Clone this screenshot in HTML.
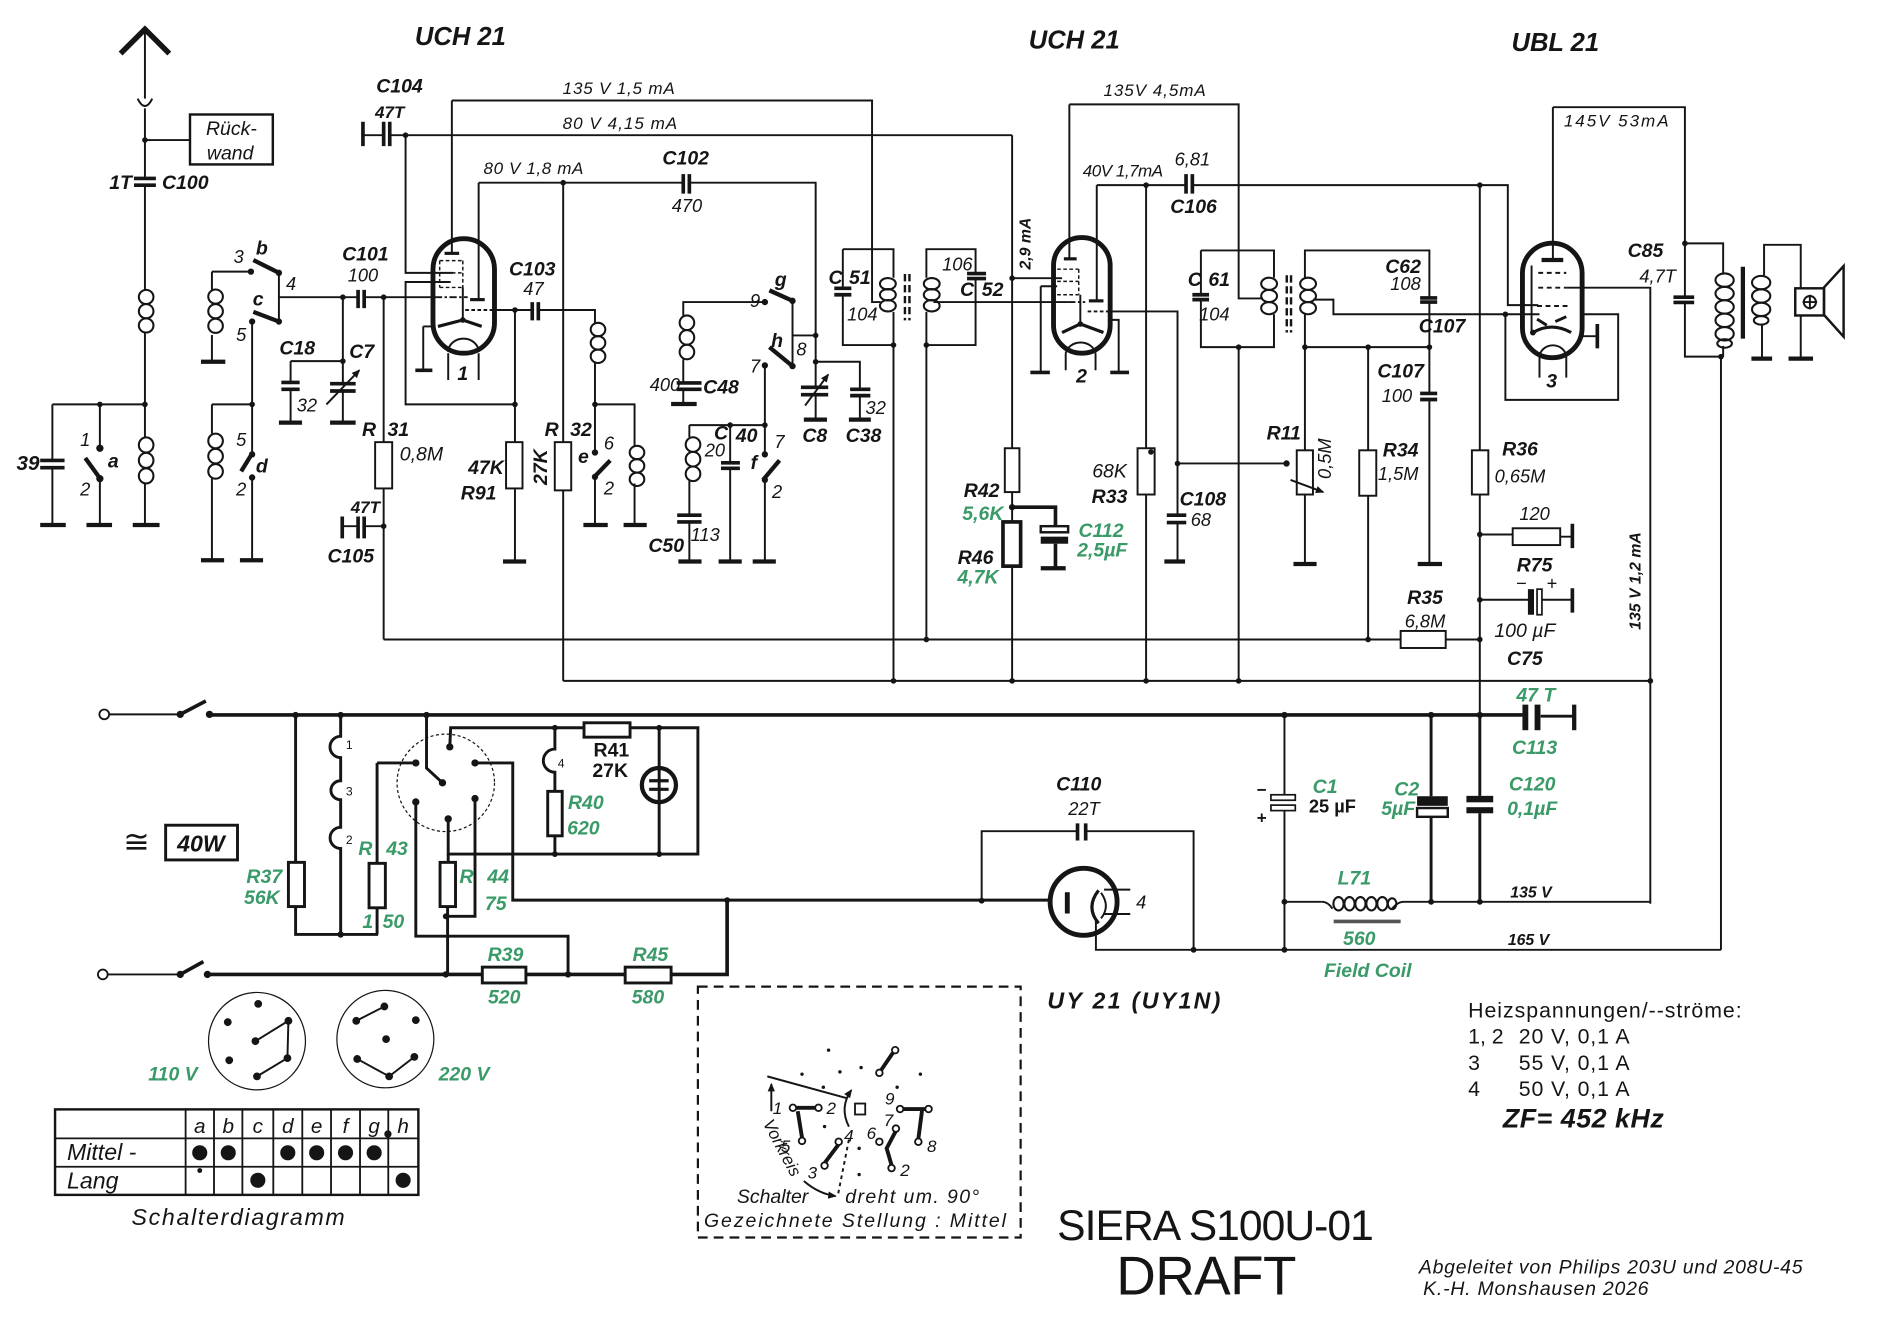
<!DOCTYPE html>
<html><head><meta charset="utf-8"><title>SIERA S100U-01 Draft</title>
<style>
html,body{margin:0;padding:0;background:#fff;width:1900px;height:1324px;overflow:hidden}
svg{display:block}
.w{stroke:#151515;stroke-width:1.6;fill:none}
.k{stroke:#151515;stroke-width:3;fill:none}
.p{stroke:#151515;stroke-width:2.4;fill:none}
.r{stroke:#151515;stroke-width:1.6;fill:#fff}
.rp{stroke:#151515;stroke-width:2.4;fill:#fff}
.c{stroke:#151515;stroke-width:1.7;fill:none}
.n{fill:#151515}
.o{fill:#fff;stroke:#151515;stroke-width:1.5}
text{font-family:"Liberation Sans",Arial,sans-serif;fill:#151515}
.m{text-anchor:middle}
.b{font-weight:bold;font-style:italic;font-size:16px}
.i{font-style:italic;font-size:15px}
.s{font-style:italic;font-size:14px}
.g{fill:#3a9a68;font-weight:bold;font-style:italic;font-size:16px}
</style></head><body>
<svg width="1900" height="1324" viewBox="0 0 1560 1087" preserveAspectRatio="none" xmlns="http://www.w3.org/2000/svg">
<defs>
<marker id="ah" markerWidth="8" markerHeight="8" refX="6" refY="4" orient="auto" markerUnits="userSpaceOnUse"><path d="M0,1L7,4L0,7z" fill="#151515"/></marker>
</defs>
<rect width="1560" height="1087" fill="#fff"/>

<!-- ===== Titles ===== -->
<text x="378" y="37" class="b m" style="font-size:21px">UCH 21</text>
<text x="882" y="40" class="b m" style="font-size:21px">UCH 21</text>
<text x="1277" y="42" class="b m" style="font-size:21px">UBL 21</text>

<!-- ===== Antenna input ===== -->
<polyline points="99,44 119,24 139,44" class="k" style="stroke-width:4.5"/>
<path class="w" d="M119,24V81 M119,89V146 M119,152V238 M119,273V359 M119,397V431"/>
<path class="w" d="M113,81 Q119,93 125,81"/>
<g class="c"><ellipse cx="120" cy="243.8" rx="6" ry="5.8"/><ellipse cx="120" cy="255.5" rx="6" ry="5.8"/><ellipse cx="120" cy="267.2" rx="6" ry="5.8"/>
<ellipse cx="120" cy="365.3" rx="6" ry="6.2"/><ellipse cx="120" cy="378" rx="6" ry="6.2"/><ellipse cx="120" cy="390.7" rx="6" ry="6.2"/></g>
<path class="w" d="M119,115H156"/>
<rect x="156" y="94" width="68" height="41" class="r" style="stroke-width:2"/>
<text x="190" y="111" class="i m" style="font-size:16px">Rück-</text>
<text x="189" y="131" class="i m" style="font-size:16px">wand</text>
<path class="k" d="M110,146.5H128M110,152H128"/>
<text x="99" y="155" class="b m">1T</text>
<text x="133" y="155" class="b">C100</text>
<path class="w" d="M43,332H119"/>
<path class="w" d="M43,332V378M43,384V431"/><path class="k" d="M33,378H53M33,384H53"/>
<text x="23" y="386" class="b m" style="font-size:17px">39</text>
<path class="w" d="M82,332V368M82,393V431"/>
<circle cx="82" cy="368" r="3" class="n"/><circle cx="82" cy="393" r="3" class="n"/>
<path class="k" d="M70,376L83,394" style="stroke-width:3.5"/>
<text x="70" y="366" class="i m">1</text><text x="70" y="407" class="i m">2</text><text x="93" y="384" class="b m">a</text>
<path class="k" style="stroke-width:3.5" d="M33,431H54M71,431H92M109,431H131"/>
<circle cx="119" cy="115" r="2.3" class="n"/><circle cx="82" cy="332" r="2.3" class="n"/><circle cx="119" cy="332" r="2.3" class="n"/>

<!-- ===== Band switch b c d ===== -->
<path class="w" d="M174,223H206 M174,223V238 M174,275V297"/>
<g class="c"><ellipse cx="177" cy="243.5" rx="6" ry="5.8"/><ellipse cx="177" cy="255.5" rx="6" ry="5.8"/><ellipse cx="177" cy="267.5" rx="6" ry="5.8"/>
<ellipse cx="177" cy="362" rx="6" ry="6"/><ellipse cx="177" cy="374.5" rx="6" ry="6"/><ellipse cx="177" cy="387" rx="6" ry="6"/></g>
<path class="k" style="stroke-width:3.5" d="M165,297H185 M165,460H184 M197,460H216"/>
<circle cx="206" cy="223" r="2.6" class="n"/>
<path class="k" d="M208,213.5L229,224" style="stroke-width:3.5"/>
<circle cx="229" cy="224" r="2.6" class="n"/>
<path class="w" d="M229,224V264 M229,244H294"/>
<path class="k" d="M208,256L229,264" style="stroke-width:3.5"/>
<circle cx="229" cy="264" r="2.6" class="n"/><circle cx="207" cy="264" r="2.6" class="n"/>
<text x="196" y="216" class="i m">3</text><text x="215" y="209" class="b m">b</text><text x="239" y="238" class="i m">4</text>
<text x="212" y="251" class="b m">c</text><text x="198" y="280" class="i m">5</text>
<path class="w" d="M207,264V373 M174,332H207 M174,332V356 M174,393V460"/>
<circle cx="207" cy="332" r="2.3" class="n"/><circle cx="207" cy="373" r="2.6" class="n"/><circle cx="207" cy="392" r="2.6" class="n"/>
<path class="k" d="M198,387L206,374" style="stroke-width:3.5"/>
<path class="w" d="M207,392V460"/>
<text x="198" y="366" class="i m">5</text><text x="215" y="388" class="b m">d</text><text x="198" y="407" class="i m">2</text>

<!-- C18 / C7 -->
<path class="w" d="M238.6,296.5H281.5 M238.6,296.5V314 M238.6,319.6V347 M281.5,244V315 M281.5,321V347"/>
<path class="k" d="M231,314H246M231,319.6H246 M271,315H292M271,321H292"/>
<path class="w" d="M268,332L295,304" marker-end="url(#ah)"/>
<path class="k" style="stroke-width:3.5" d="M229,347H248 M271,347H292"/>
<circle cx="281.5" cy="296.5" r="2.3" class="n"/><circle cx="281.5" cy="244" r="2.3" class="n"/>
<text x="244" y="291" class="b m">C18</text><text x="252" y="338" class="i m">32</text><text x="297" y="294" class="b m">C7</text>

<!-- C101 / R31 / C105 -->
<path class="k" d="M294,238V253M299,238V253"/>
<path class="w" d="M299,244H357 M315,244V363 M315,401V525"/>
<rect x="308" y="363" width="14" height="38" class="r"/>
<circle cx="315" cy="244" r="2.3" class="n"/>
<text x="300" y="214" class="b m">C101</text><text x="298" y="231" class="i m">100</text>
<text x="303" y="358" class="b m">R</text><text x="327" y="358" class="b m">31</text>
<text x="346" y="378" class="b m" style="font-weight:normal">0,8M</text>
<path class="w" d="M281,432H294 M299,432H315"/>
<path class="k" d="M294,424V442M299,424V442 M281,424V442"/>
<circle cx="315" cy="432" r="2.3" class="n"/>
<text x="300" y="421" class="b m" style="font-size:14px">47T</text><text x="288" y="462" class="b m">C105</text>

<!-- ===== Tube 1 ===== -->
<rect x="355.5" y="196" width="50.5" height="94" rx="25" class="k" style="stroke-width:4"/>
<path class="w" d="M371,82.5V208"/><path class="k" d="M365,208H377" style="stroke-width:2.6"/>
<path class="w" style="stroke-width:1.2;stroke-dasharray:3,2" d="M361,214H380M361,224H380M361,236H380M361,214V236M380,214V236"/>
<path class="w" d="M372,224H333V111 M370,231.5H333V332H422.8"/>
<path class="w" style="stroke-dasharray:6,2,2,2" d="M357,244H384"/>
<path class="w" d="M393,150V246"/><path class="k" d="M386,246H398" style="stroke-width:2.6"/>
<path class="w" style="stroke-dasharray:3,2" d="M382,254.5H406"/>
<path class="w" d="M380,236V262.7"/>
<polyline points="359.6,268 380,262.7 395.5,268" class="k" style="stroke-width:2.6"/>
<circle cx="380" cy="262.7" r="2.3" class="n"/>
<path class="w" d="M368,289 A12.5,11 0 0 1 393,289 M368,290V312 M393,290V312 M347.5,268H356 M347.5,268V304"/>
<path class="k" d="M341,304H355"/>
<text x="380" y="312" class="b m">1</text>

<!-- C104 -->
<path class="w" d="M298,111H315 M320,111H831 M371,82.5H716V248H723"/>
<path class="k" d="M298,100V120 M315,100V120 M320,100V120"/>
<circle cx="333" cy="111" r="2.3" class="n"/>
<text x="328" y="76" class="b m">C104</text><text x="320" y="97" class="b m" style="font-size:14px">47T</text>
<text x="462" y="77" class="s" textLength="92">135 V   1,5 mA</text>
<text x="462" y="106" class="s" textLength="94">80 V   4,15 mA</text>

<!-- 80V 1,8mA / R32 -->
<path class="w" d="M393,150H561 M566,150H669.7V318 M462.4,150V363 M462.4,402.6V559"/>
<rect x="455.5" y="363" width="13.5" height="39.6" class="r"/>
<circle cx="462.4" cy="150" r="2.3" class="n"/>
<text x="397" y="143" class="s" textLength="82">80 V  1,8 mA</text>
<text x="453" y="358" class="b m">R</text><text x="477" y="358" class="b m">32</text>
<text x="0" y="0" class="b m" transform="translate(449,383.5) rotate(-90)">27K</text>

<!-- C103 / R91 / osc coil -->
<path class="w" d="M406,254.5H437 M442,254.5H488.5V265 M488.5,297V371.5 M422.8,254.5V363 M422.8,401V461"/>
<path class="k" d="M437,248V263M442,248V263"/>
<g class="c"><ellipse cx="491" cy="270.5" rx="6" ry="5.5"/><ellipse cx="491" cy="281.5" rx="6" ry="5.5"/><ellipse cx="491" cy="292.5" rx="6" ry="5.5"/></g>
<rect x="415.5" y="363" width="13.5" height="38" class="r"/>
<circle cx="422.8" cy="254.5" r="2.3" class="n"/><circle cx="422.8" cy="332" r="2.3" class="n"/>
<path class="k" style="stroke-width:3.5" d="M413,461H432"/>
<text x="437" y="226" class="b m">C103</text><text x="438" y="242" class="i m">47</text>
<text x="399" y="389" class="b m">47K</text><text x="393" y="410" class="b m">R91</text>

<!-- switch e -->
<circle cx="488.5" cy="332" r="2.3" class="n"/>
<circle cx="488.5" cy="371.5" r="2.6" class="n"/><circle cx="488.5" cy="391.5" r="2.6" class="n"/>
<path class="k" d="M489,390.5L501,378" style="stroke-width:3.5"/>
<path class="w" d="M488.5,391.5V431 M488.5,332H521V366 M521,397V431"/>
<g class="c"><ellipse cx="523" cy="371.5" rx="6" ry="5.5"/><ellipse cx="523" cy="382.5" rx="6" ry="5.5"/><ellipse cx="523" cy="393.5" rx="6" ry="5.5"/></g>
<path class="k" style="stroke-width:3.5" d="M479,431H499 M512,431H531"/>
<text x="500" y="369" class="i m">6</text><text x="479" y="380" class="b m">e</text><text x="500" y="406" class="i m">2</text>

<!-- C102 -->
<path class="k" d="M561,143V159M566,143V159"/>
<text x="563" y="135" class="b m">C102</text><text x="564" y="174" class="i m">470</text>

<!-- C8 / C38 -->
<path class="k" d="M657.6,318H680M657.6,324H680"/>
<path class="w" d="M661,333L680,307.5" marker-end="url(#ah)"/>
<path class="w" d="M669.7,324V344.5 M669.7,297H706V319.6 M706,324.8V344.5"/>
<path class="k" d="M698,319.6H714.6M698,324.8H714.6"/>
<path class="k" style="stroke-width:3.5" d="M660,344.5H679 M697,344.5H715"/>
<circle cx="669.7" cy="275.4" r="2.3" class="n"/><circle cx="669.7" cy="297" r="2.3" class="n"/>
<text x="669" y="363" class="b m">C8</text><text x="719" y="340" class="i m">32</text><text x="709" y="363" class="b m">C38</text>

<!-- switch g h -->
<path class="w" d="M650.7,247V300.6 M650.7,275.4H669.7"/>
<path class="k" style="stroke-width:3.5" d="M631.7,238.4L650.7,247 M631.7,285L650.7,300.6"/>
<circle cx="650.7" cy="247" r="2.6" class="n"/><circle cx="628" cy="248" r="2.6" class="n"/>
<circle cx="650.7" cy="300.6" r="2.6" class="n"/><circle cx="628" cy="300" r="2.6" class="n"/>
<text x="620" y="252" class="i m">9</text><text x="641" y="235" class="b m">g</text>
<text x="638" y="285" class="b m">h</text><text x="620" y="306" class="i m">7</text><text x="658" y="292" class="i m">8</text>

<!-- C48 coil / lower coil / C40 / switch f -->
<path class="w" d="M628,248H561V259 M561,295V314.4 M561,319.6V331.7"/>
<g class="c"><ellipse cx="564" cy="265" rx="6" ry="6"/><ellipse cx="564" cy="277" rx="6" ry="6"/><ellipse cx="564" cy="289" rx="6" ry="6"/>
<ellipse cx="569" cy="365" rx="6" ry="6"/><ellipse cx="569" cy="377" rx="6" ry="6"/><ellipse cx="569" cy="389" rx="6" ry="6"/></g>
<path class="k" d="M555.6,314.4H576M555.6,319.6H576"/>
<path class="k" style="stroke-width:3.5" d="M551,331.7H572"/>
<text x="546" y="321" class="i m">400</text><text x="592" y="323" class="b m">C48</text>
<path class="w" d="M566,349H628 M566,349V359 M566,395V423 M566,428.5V461 M599.5,349V380 M599.5,384.5V461 M628,300V373 M628,394V461"/>
<path class="k" d="M556,423H576M556,428.5H576 M592,380H607.5M592,384.5H607.5"/>
<path class="k" style="stroke-width:3.5" d="M557,461H576 M590,461H609 M618,461H637"/>
<circle cx="599.5" cy="349" r="2.3" class="n"/><circle cx="628" cy="349" r="2.3" class="n"/>
<circle cx="628" cy="373" r="2.6" class="n"/><circle cx="628" cy="394" r="2.6" class="n"/>
<path class="k" d="M626.5,394L640,378" style="stroke-width:3.5"/>
<text x="547" y="453" class="b m">C50</text><text x="579" y="444" class="i m">113</text>
<text x="592" y="361" class="b m">C</text><text x="613" y="363" class="b m">40</text><text x="587" y="375" class="i m">20</text>
<text x="640" y="368" class="i m">7</text><text x="619" y="385" class="b m">f</text><text x="638" y="409" class="i m">2</text>

<!-- ===== IF transformer 1 ===== -->
<path class="w" d="M692,204.6H733.6V228 M733.6,256V283.3H692V242 M692,236.7V204.6"/>
<path class="k" d="M685,236.7H699M685,242H699"/>
<g class="c"><ellipse cx="729" cy="233" rx="6.5" ry="4.7"/><ellipse cx="729" cy="242" rx="6.5" ry="4.7"/><ellipse cx="729" cy="251" rx="6.5" ry="4.7"/>
<ellipse cx="765" cy="233" rx="6.5" ry="4.7"/><ellipse cx="765" cy="242" rx="6.5" ry="4.7"/><ellipse cx="765" cy="251" rx="6.5" ry="4.7"/></g>
<path class="w" style="stroke-width:2;stroke-dasharray:6,3" d="M743,225V263M746.7,225V263"/>
<path class="w" d="M760.6,228V204.6H801V224.6 M801,228.7V283.3H760.6V256"/>
<path class="k" d="M794,224.6H809.6M794,228.7H809.6"/>
<path class="w" d="M766.4,248H877"/>
<path class="w" d="M733.6,283.3V559 M760.6,283.3V525"/>
<circle cx="733.6" cy="283.3" r="2.3" class="n"/><circle cx="760.6" cy="283.3" r="2.3" class="n"/>
<text x="686" y="233" class="b m">C</text><text x="706" y="233" class="b m">51</text><text x="708" y="263" class="i m">104</text>
<text x="786" y="222" class="i m">106</text><text x="794" y="243" class="b m">C</text><text x="815" y="243" class="b m">52</text>

<!-- buses -->
<path class="w" d="M315,525H1150 M1187,525H1215 M462.4,559H1355"/>
<circle cx="733.6" cy="559" r="2.3" class="n"/><circle cx="831" cy="559" r="2.3" class="n"/><circle cx="941" cy="559" r="2.3" class="n"/><circle cx="1017" cy="559" r="2.3" class="n"/><circle cx="1355" cy="559" r="2.3" class="n"/>
<circle cx="760.6" cy="525" r="2.3" class="n"/><circle cx="1123.3" cy="525" r="2.3" class="n"/><circle cx="1215" cy="525" r="2.3" class="n"/>
<rect x="1150" y="518" width="37" height="14" class="r"/>
<text x="1170" y="496" class="b m">R35</text><text x="1170" y="515" class="i m">6,8M</text>

<!-- R42 / R46 / C112 -->
<path class="w" d="M831,111V368 M831,404V428.5 M831,464.8V559 M831,228.4H872"/>
<rect x="825" y="368" width="12" height="36" class="r"/>
<rect x="823.5" y="428.5" width="14.5" height="36.3" class="rp" style="stroke-width:3"/>
<circle cx="831" cy="228.4" r="2.3" class="n"/><circle cx="831" cy="416.4" r="2.6" class="n"/>
<path class="k" d="M831,416.4H866.6V432 M866.6,446.4V466.5"/>
<rect x="854.5" y="432" width="22.5" height="5" class="r" style="stroke-width:2"/>
<rect x="854.5" y="440.6" width="22.5" height="5.8" class="n"/>
<path class="k" style="stroke-width:3.5" d="M854.5,466.5H875"/>
<text x="0" y="0" class="s m" style="font-weight:bold;font-size:13px" transform="translate(846,200) rotate(-90)">2,9 mA</text>
<text x="806" y="408" class="b m">R42</text><text x="807" y="427" class="g m">5,6K</text>
<text x="801" y="463" class="b m">R46</text><text x="803" y="479" class="g m">4,7K</text>
<text x="904" y="441" class="g m">C112</text><text x="905" y="457" class="g m">2,5µF</text>

<!-- ===== Tube 2 ===== -->
<rect x="865" y="195" width="46.5" height="95" rx="23" class="k" style="stroke-width:4"/>
<path class="w" d="M878,85.7V212.5 M878,85.7H1017V245H1037"/>
<path class="k" d="M873.5,212.5H884" style="stroke-width:2.6"/>
<text x="906" y="79" class="s" textLength="84">135V  4,5mA</text>
<path class="w" style="stroke-width:1.2;stroke-dasharray:3,2" d="M868,221H885.7M868,231H885.7M868,242H885.7M885.7,221V242"/>
<path class="w" d="M854.5,235H868 M854.5,235V305.8"/>
<path class="k" d="M846,305.8H862"/>
<path class="w" style="stroke-dasharray:6,2,2,2" d="M877,248H891"/>
<path class="w" d="M900.5,152V247"/><path class="k" d="M894,247H906" style="stroke-width:2.6"/>
<path class="w" style="stroke-dasharray:3,2" d="M893,255.7H911"/>
<path class="w" d="M911,255.7H966.8V423 M966.8,429V461 M966.8,380.5H1056.3"/>
<path class="k" d="M958,423H974M958,429H974"/>
<path class="k" style="stroke-width:3.5" d="M956,461H973"/>
<circle cx="966.8" cy="380.5" r="2.3" class="n"/><circle cx="1056.3" cy="380.5" r="2.6" class="n"/>
<path class="w" d="M887,242V266"/>
<polyline points="872,273 887,266 906,273" class="k" style="stroke-width:2.6"/>
<circle cx="887" cy="266" r="2.3" class="n"/>
<path class="w" d="M875,290 A12.5,11 0 0 1 899.5,290 M875,290V304 M899.5,290V304 M911.5,262.6H918.5V305.8"/>
<path class="k" d="M911.6,305.8H927"/>
<text x="888" y="314" class="b m">2</text>
<text x="987.6" y="415" class="b m">C108</text><text x="986" y="432" class="i m">68</text>

<!-- 40V line / C106 / R33 -->
<path class="w" d="M900.5,152H973.8 M979,152H1238V250.5H1263 M941,152V368 M941,406V559"/>
<path class="k" d="M973.8,143V159M979,143V159"/>
<rect x="934" y="368" width="14" height="38" class="r"/>
<circle cx="945" cy="371" r="2.3" class="n"/>
<circle cx="941" cy="152" r="2.3" class="n"/><circle cx="1215" cy="152" r="2.3" class="n"/>
<text x="922" y="145" class="s m" textLength="66">40V 1,7mA</text>
<text x="979" y="136" class="i m">6,81</text><text x="980" y="175" class="b m">C106</text>
<text x="911" y="392" class="b m" style="font-weight:normal">68K</text><text x="911" y="413" class="b m">R33</text>

<!-- ===== IF transformer 2 ===== -->
<path class="w" d="M986,205.6H1046V228 M1046,258V285H986V246 M986,242V205.6"/>
<path class="k" d="M979,242H992.7M979,246H992.7"/>
<g class="c"><ellipse cx="1042" cy="233" rx="6.5" ry="5"/><ellipse cx="1042" cy="243" rx="6.5" ry="5"/><ellipse cx="1042" cy="253" rx="6.5" ry="5"/>
<ellipse cx="1074" cy="233" rx="6.5" ry="5"/><ellipse cx="1074" cy="243" rx="6.5" ry="5"/><ellipse cx="1074" cy="253" rx="6.5" ry="5"/></g>
<path class="w" style="stroke-width:2;stroke-dasharray:6,3" d="M1056.5,226V273M1060,226V273"/>
<path class="w" d="M1017,285V559"/>
<circle cx="1017" cy="285" r="2.3" class="n"/>
<text x="981" y="235" class="b m">C</text><text x="1001" y="235" class="b m">61</text><text x="997" y="263" class="i m">104</text>
<path class="w" d="M1071.4,228V205.6H1173.6V244.6 M1173.6,248V323 M1173.6,328V463 M1071.4,258V285H1173.6"/>
<path class="k" d="M1166,244.6H1180M1166,248H1180 M1166,323H1180M1166,328H1180"/>
<path class="k" style="stroke-width:3.5" d="M1164,463H1184"/>
<circle cx="1071.4" cy="285" r="2.3" class="n"/><circle cx="1123.3" cy="285" r="2.3" class="n"/><circle cx="1173.6" cy="285" r="2.3" class="n"/>
<path class="w" d="M1078,246H1094.8V258H1264"/>
<circle cx="1236" cy="258" r="2.3" class="n"/>
<text x="1152" y="224" class="b m">C62</text><text x="1154" y="238" class="i m">108</text>
<text x="1184" y="273" class="b m">C107</text>
<text x="1150" y="310" class="b m">C107</text><text x="1147" y="330" class="i m">100</text>

<!-- R11 / R34 -->
<path class="w" d="M1071.4,285V369.7 M1071.4,406V463 M1123.3,285V369.7 M1123.3,407V525"/>
<rect x="1064.7" y="369.7" width="13.3" height="36.3" class="r"/>
<rect x="1116" y="369.7" width="14" height="37.3" class="r"/>
<path class="w" d="M1059.6,394L1086.4,404" marker-end="url(#ah)"/>
<path class="k" style="stroke-width:3.5" d="M1062,463H1081"/>
<text x="1054" y="361" class="b m">R11</text>
<text x="0" y="0" class="i m" transform="translate(1093,376.6) rotate(-90)">0,5M</text>
<text x="1150" y="375" class="b m">R34</text><text x="1148" y="394" class="i m">1,5M</text>

<!-- R36 / 120 / C75 -->
<path class="w" d="M1215,152V369.7 M1215,406V587 M1215,438.8H1242 M1281,440.6H1291 M1215,492.4H1256 M1266,492.4H1291"/>
<rect x="1208.5" y="369.7" width="13.5" height="36.3" class="r"/>
<rect x="1242" y="433.7" width="39" height="13.8" class="r"/>
<path class="k" d="M1291,430V450 M1291,483V503"/>
<rect x="1254.5" y="483.7" width="5" height="21" class="n"/>
<rect x="1262" y="483.7" width="4" height="21" class="r" style="stroke-width:1.4"/>
<circle cx="1215" cy="438.8" r="2.3" class="n"/><circle cx="1215" cy="492.4" r="2.3" class="n"/>
<text x="1248" y="374" class="b m">R36</text><text x="1248" y="396" class="i m">0,65M</text>
<text x="1260" y="427" class="i m">120</text><text x="1260" y="469" class="b m">R75</text>
<text x="1249" y="484" class="i m">−</text><text x="1274" y="484" class="i m">+</text>
<text x="1252" y="523" class="b m" style="font-weight:normal">100 µF</text><text x="1252" y="546" class="b m">C75</text>

<!-- ===== Tube 3 ===== -->
<rect x="1250" y="199.7" width="49" height="94" rx="24.5" class="k" style="stroke-width:4"/>
<path class="w" d="M1275,88V213.5"/><path class="k" d="M1265.7,213.5H1283.5" style="stroke-width:3.5"/>
<path class="w" d="M1257.5,218V273"/>
<path class="w" style="stroke-dasharray:4,3" d="M1263,224H1286 M1263,236.2H1286 M1262,251.2H1287"/>
<path class="w" d="M1286,236.2H1355V742"/>
<path class="k" style="stroke-width:2.4" d="M1262,262L1270,267 M1277,264L1286,260"/>
<path class="k" style="stroke-width:2.6" d="M1258.6,273 Q1274,264 1290,273"/>
<circle cx="1258.6" cy="273" r="2.4" class="n"/>
<path class="w" d="M1264,293.5 A11,10 0 0 1 1286,293.5 M1264,293.5V310 M1286,293.5V310 M1299,276H1311.5"/>
<path class="k" d="M1311.5,266V286"/>
<path class="w" d="M1236,258V328.3H1328.6V258H1299"/>
<text x="1274" y="318" class="b m">3</text>
<text x="0" y="0" class="s m" style="font-weight:bold;font-size:13px" transform="translate(1347,477) rotate(-90)">135 V  1,2 mA</text>

<!-- output stage -->
<path class="w" d="M1275,88H1383.4V244 M1383.4,248.3V292.8H1413 M1383.4,199.8H1414.8V224 M1414.8,284V292.8 M1413,292.8V779.8"/>
<path class="k" d="M1374,244H1391M1374,248.3H1391"/>
<circle cx="1383.4" cy="199.8" r="2.3" class="n"/><circle cx="1413" cy="292.8" r="2.3" class="n"/>
<g class="c"><ellipse cx="1416" cy="230" rx="7.5" ry="5.5"/><ellipse cx="1416" cy="241" rx="7.5" ry="5.5"/><ellipse cx="1416" cy="252" rx="7.5" ry="5.5"/><ellipse cx="1416" cy="263" rx="7.5" ry="5.5"/><ellipse cx="1416" cy="274" rx="7.5" ry="5.5"/><ellipse cx="1416" cy="282" rx="6" ry="3.5"/>
<ellipse cx="1446" cy="232" rx="7.5" ry="5.5"/><ellipse cx="1446" cy="243" rx="7.5" ry="5.5"/><ellipse cx="1446" cy="254" rx="7.5" ry="5.5"/><ellipse cx="1446" cy="263" rx="6" ry="3.5"/></g>
<path class="k" d="M1431,219V278" style="stroke-width:3.5"/>
<path class="w" d="M1448.4,226V201H1478.5V294.4 M1446.7,266V294.4"/>
<path class="k" style="stroke-width:3.5" d="M1468.5,294.4H1488.6 M1438,294.4H1455"/>
<rect x="1474" y="236.7" width="23.6" height="22.3" class="r" style="stroke-width:2"/>
<circle cx="1486" cy="248" r="5" class="w"/><path class="w" d="M1486,242V254 M1480,248H1492"/>
<polygon points="1497.6,236 1513.7,218.4 1513.7,276.4 1497.6,258.5" class="w" style="stroke-width:2"/>
<text x="1284" y="104" class="s" textLength="86">145V   53mA</text>
<text x="1351" y="211" class="b m">C85</text><text x="1361" y="232" class="i m">4,7T</text>

<!-- ===== Power supply ===== -->
<circle cx="85.6" cy="586.5" r="4" class="o"/><circle cx="84.4" cy="800" r="4" class="o"/>
<path class="w" d="M89.6,586.5H148 M88.4,800H148"/>
<circle cx="148" cy="586.5" r="3" class="n"/><circle cx="172" cy="586.5" r="3" class="n"/>
<circle cx="148" cy="800" r="3" class="n"/><circle cx="170.3" cy="800" r="3" class="n"/>
<path class="k" d="M148,586.5L169,575.5 M148,800L167,789.5"/>
<path class="k" d="M172,587H1250"/>
<rect x="1250" y="578.5" width="4.8" height="21" class="n"/><rect x="1260" y="578.5" width="4.8" height="21" class="n"/>
<path class="p" d="M1265,588H1292.5"/><path class="k" style="stroke-width:3.5" d="M1292.5,578.5V599.5"/>
<text x="1261" y="576" class="g m">47 T</text><text x="1260" y="619" class="g m">C113</text>
<circle cx="242.7" cy="587" r="2.6" class="n"/><circle cx="279.7" cy="587" r="2.6" class="n"/><circle cx="350.2" cy="587" r="2.6" class="n"/>
<circle cx="1054.6" cy="587" r="2.6" class="n"/><circle cx="1175" cy="587" r="2.6" class="n"/><circle cx="1215" cy="587" r="2.6" class="n"/>

<path class="k" d="M170.3,800H396 M431.8,800H513.3 M551,800H597V739"/>
<rect x="396" y="794" width="35.8" height="13" class="rp"/>
<rect x="513.3" y="794" width="37.7" height="13" class="rp"/>
<circle cx="366" cy="800" r="2.6" class="n"/><circle cx="466.4" cy="800" r="2.6" class="n"/>
<text x="415" y="789" class="g m">R39</text><text x="414" y="824" class="g m">520</text>
<text x="534" y="789" class="g m">R45</text><text x="532" y="824" class="g m">580</text>

<!-- R37 / heaters / R43 -->
<path class="p" d="M242.7,587V708 M242.7,744.3V767.2H310.4"/>
<rect x="236.8" y="708" width="13.2" height="36.3" class="rp"/>
<path class="p" d="M279.7,587V604.5 A8.7,8.7 0 0 0 279.7,622 V641 A8,7.8 0 0 0 279.7,656.6 V679.2 A8.7,8.7 0 0 0 279.7,696.6 V767.2"/>
<circle cx="279.7" cy="767.2" r="2.6" class="n"/>
<text x="284" y="615" style="font-size:10px">1</text><text x="284" y="653" style="font-size:10px">3</text><text x="284" y="693" style="font-size:10px">2</text>
<path class="p" d="M309.6,626.4H341.4 M309.6,626.4V708.8 M309.6,745.3V767.2"/>
<rect x="303" y="708.8" width="13.4" height="36.5" class="rp"/>
<text x="217" y="725" class="g m">R37</text><text x="215" y="742" class="g m">56K</text>
<text x="300" y="702" class="g m">R</text><text x="326" y="702" class="g m">43</text>
<text x="302" y="762" class="g m">1</text><text x="323" y="762" class="g m">50</text>

<!-- rotary selector -->
<ellipse cx="366" cy="642.7" rx="40" ry="40" fill="none" stroke="#151515" stroke-width="1" stroke-dasharray="2.5,2"/>
<path class="p" d="M350.2,587V630.6L363.3,642.7"/>
<path class="p" d="M369.3,613.2L370,597.5H573V701.2H368V672.3"/>
<rect x="479.5" y="593.4" width="37.8" height="11.8" class="rp"/>
<path class="p" d="M368,701.2V708 M367.5,744.3V800 M366,752.3H390V655.6"/>
<rect x="361.3" y="708" width="12.7" height="36.3" class="rp"/>
<path class="p" d="M390,626.4H421V739H863"/>
<path class="p" d="M341.4,658.4V768.6H466.4V800"/>
<circle cx="369.3" cy="613.2" r="3" class="n"/><circle cx="341.4" cy="626.4" r="3" class="n"/><circle cx="390" cy="626.4" r="3" class="n"/>
<circle cx="363.3" cy="642.7" r="3" class="n"/><circle cx="341.4" cy="658.4" r="3" class="n"/><circle cx="390" cy="655.6" r="3" class="n"/><circle cx="368" cy="672.3" r="3" class="n"/>
<circle cx="366" cy="752.3" r="2.4" class="n"/><circle cx="597" cy="739" r="2.4" class="n"/>
<text x="383" y="725" class="g m">R</text><text x="409" y="725" class="g m">44</text><text x="407" y="747" class="g m">75</text>

<!-- R40 / R41 / glow lamp -->
<path class="p" d="M455.6,597.5V615 A9.5,9.5 0 0 0 455.6,634 V649.7 M455.6,686.2V701.2"/>
<rect x="449.7" y="649.7" width="11.9" height="36.5" class="rp"/>
<text x="458" y="630" style="font-size:10px">4</text>
<path class="p" d="M541.2,597.5V701.2"/>
<circle cx="541" cy="644.5" r="14" fill="none" stroke="#151515" stroke-width="3.5"/>
<path class="k" d="M533,641H549M533,648H549" style="stroke-width:2.6"/>
<circle cx="455.6" cy="597.5" r="2.4" class="n"/><circle cx="541.2" cy="597.5" r="2.4" class="n"/>
<circle cx="455.6" cy="701.2" r="2.4" class="n"/><circle cx="541.2" cy="701.2" r="2.4" class="n"/>
<text x="502" y="621" class="b m" style="font-style:normal">R41</text><text x="501" y="638" class="b m" style="font-style:normal">27K</text>
<text x="481" y="664" class="g m">R40</text><text x="479" y="685" class="g m">620</text>

<text x="112" y="700" class="m" style="font-family:'DejaVu Sans',sans-serif;font-size:26px">≅</text>
<rect x="136" y="677.5" width="59" height="28.5" fill="none" stroke="#151515" stroke-width="2.4"/>
<text x="165" y="699" class="b m" style="font-size:19px">40W</text>

<!-- UY21 rectifier -->
<circle cx="806" cy="739.5" r="2.4" class="n"/>
<path class="w" d="M806,739.5V682.4H884.7 M891.4,682.4H980V779.8 M899.8,755V779.8H1413"/>
<path class="k" d="M884.7,676V690M891.4,676V690"/>
<circle cx="889.7" cy="740.4" r="27.5" fill="none" stroke="#151515" stroke-width="4"/>
<path class="k" d="M876.3,732.5V750" style="stroke-width:4"/>
<path class="k" d="M902,731 Q891,745 902,758" style="stroke-width:2.6"/>
<path class="w" d="M904,733 Q912,744 904,754 M906.5,730.4H928 M906.5,750.4H928"/>
<circle cx="980" cy="779.8" r="2.4" class="n"/>
<text x="937" y="746" class="i m">4</text>
<text x="885.7" y="649" class="b m">C110</text><text x="890" y="669" class="i m">22T</text>
<text x="860" y="828" class="b" style="font-size:19px" textLength="142">UY 21   (UY1N)</text>

<!-- filter caps / field coil -->
<path class="w" d="M1054.6,587V653 M1054.6,666V779.8 M1054.6,740.4H1084.8"/>
<rect x="1043.5" y="652.5" width="20" height="4.5" class="r" style="stroke-width:1.4"/>
<rect x="1043.5" y="661" width="20" height="4.5" class="r" style="stroke-width:1.4"/>
<circle cx="1054.6" cy="740.4" r="2.4" class="n"/><circle cx="1054.6" cy="779.8" r="2.4" class="n"/>
<text x="1036" y="653" class="m" style="font-size:14px;font-weight:bold">−</text><text x="1036" y="676" class="m" style="font-size:14px;font-weight:bold">+</text>
<text x="1088" y="651" class="g m">C1</text><text x="1094" y="667" class="m" style="font-weight:bold;font-size:15px">25 µF</text>
<path class="p" d="M1175,587V653.7 M1175,670.6V740.4"/>
<rect x="1163.5" y="653.7" width="25.2" height="7.9" class="n"/>
<rect x="1163.5" y="663.4" width="25.2" height="7.2" class="r" style="stroke-width:2"/>
<text x="1155" y="653" class="g m">C2</text><text x="1148" y="669" class="g m">5µF</text>
<path class="p" d="M1215,587V653.4 M1215,667.7V740.4"/>
<rect x="1204" y="653.4" width="22" height="5.3" class="n"/><rect x="1204" y="662.7" width="22" height="5" class="n"/>
<text x="1258" y="649" class="g m">C120</text><text x="1258" y="669" class="g m">0,1µF</text>
<path class="w" d="M1084.8,740.4 Q1090,740 1094,746 M1143,746 Q1148,740 1153,740.4 H1355"/>
<g class="c"><ellipse cx="1099" cy="742" rx="4.2" ry="5.5"/><ellipse cx="1108" cy="742" rx="4.2" ry="5.5"/><ellipse cx="1117" cy="742" rx="4.2" ry="5.5"/><ellipse cx="1126" cy="742" rx="4.2" ry="5.5"/><ellipse cx="1135" cy="742" rx="4.2" ry="5.5"/><ellipse cx="1143" cy="742" rx="3.5" ry="4.5"/></g>
<path d="M1095,756.5H1150" stroke="#555" stroke-width="3"/>
<circle cx="1175" cy="740.4" r="2.4" class="n"/><circle cx="1215" cy="740.4" r="2.4" class="n"/>
<text x="1112" y="726" class="g m">L71</text><text x="1116" y="776" class="g m">560</text>
<text x="1123" y="802" class="g m">Field Coil</text>
<text x="1257" y="737" class="s m" style="font-weight:bold;font-size:13px">135 V</text><text x="1255" y="776" class="s m" style="font-weight:bold;font-size:13px">165 V</text>

<!-- voltage selector -->
<ellipse cx="211" cy="854.8" rx="39.8" ry="40" fill="none" stroke="#151515" stroke-width="1"/>
<path class="w" d="M209.7,854.8L236.8,838.1L236,868.7L211,883.7"/>
<g class="n"><circle cx="212" cy="824.2" r="3.2"/><circle cx="187" cy="839.2" r="3.2"/><circle cx="236.8" cy="838.1" r="3.2"/><circle cx="209.7" cy="854.8" r="3.2"/><circle cx="188.2" cy="870.5" r="3.2"/><circle cx="236" cy="868.7" r="3.2"/><circle cx="211" cy="883.7" r="3.2"/></g>
<ellipse cx="316.4" cy="853.1" rx="39.8" ry="40" fill="none" stroke="#151515" stroke-width="1"/>
<path class="w" d="M292.5,838.1L315.6,826.3 M293.3,869.4L319.5,883.7L340.2,867.7"/>
<g class="n"><circle cx="315.6" cy="826.3" r="3.2"/><circle cx="292.5" cy="838.1" r="3.2"/><circle cx="341.4" cy="837.5" r="3.2"/><circle cx="317" cy="853.1" r="3.2"/><circle cx="293.3" cy="869.4" r="3.2"/><circle cx="340.2" cy="867.7" r="3.2"/><circle cx="319.5" cy="883.7" r="3.2"/></g>
<text x="142" y="887" class="g m">110 V</text><text x="381" y="887" class="g m">220 V</text>

<!-- switch table -->
<rect x="45.2" y="910.8" width="298.3" height="70.2" fill="none" stroke="#151515" stroke-width="2"/>
<path class="w" style="stroke-width:1.5" d="M45.2,934.6H343.5M45.2,957.9H343.5 M152.4,910.8V981M175.7,910.8V981M199,910.8V981M224.4,910.8V981M248.2,910.8V981M271.8,910.8V981M295.6,910.8V981M318.8,910.8V981"/>
<g class="i m" style="font-size:17px">
<text x="164" y="930">a</text><text x="187.4" y="930">b</text><text x="211.7" y="930">c</text><text x="236.3" y="930">d</text><text x="260" y="930">e</text><text x="283.7" y="930">f</text><text x="307.2" y="930">g</text><text x="331" y="930">h</text></g>
<g class="n"><circle cx="164" cy="946.4" r="6.2"/><circle cx="187.4" cy="946.4" r="6.2"/><circle cx="236.3" cy="946.4" r="6.2"/><circle cx="260" cy="946.4" r="6.2"/><circle cx="283.7" cy="946.4" r="6.2"/><circle cx="307.2" cy="946.4" r="6.2"/>
<circle cx="211.7" cy="969" r="6.2"/><circle cx="331" cy="969" r="6.2"/><circle cx="318.5" cy="931" r="3"/><circle cx="164" cy="961" r="2"/></g>
<text x="55" y="952.4" class="i" style="font-size:19px">Mittel -</text>
<text x="55" y="975.6" class="i" style="font-size:19px">Lang</text>
<text x="108" y="1005.7" class="i" style="font-size:19px" textLength="175">Schalterdiagramm</text>

<!-- dashed switch drawing box -->
<rect x="573" y="810" width="265" height="206" fill="none" stroke="#151515" stroke-width="1.8" stroke-dasharray="8,5"/>
<g class="k" style="stroke-width:3.2">
<path d="M653.5,909.5H669.5 M655,912.3L658.5,934 M741.5,910.5H760 M757,912L754,935 M735.6,928.4L728,942.8L732,956.5 M688.6,939.5L677,955 M733,864.5L723.5,878.5"/></g>
<g class="o"><circle cx="651" cy="909.5" r="2.7"/><circle cx="672" cy="909.5" r="2.7"/><circle cx="658.5" cy="936.7" r="2.7"/><circle cx="739" cy="910.5" r="2.7"/><circle cx="762.4" cy="910.5" r="2.7"/><circle cx="754" cy="937.4" r="2.7"/><circle cx="735.6" cy="926.6" r="2.7"/><circle cx="722" cy="937.4" r="2.7"/><circle cx="732" cy="959" r="2.7"/><circle cx="688.6" cy="937.4" r="2.7"/><circle cx="677" cy="957" r="2.7"/><circle cx="735" cy="862.2" r="2.7"/><circle cx="722" cy="880.8" r="2.7"/></g>
<g class="n"><circle cx="680.3" cy="862.2" r="1.4"/><circle cx="658.5" cy="881.9" r="1.4"/><circle cx="689.6" cy="880" r="1.4"/><circle cx="707" cy="876.5" r="1.4"/><circle cx="755.7" cy="881.9" r="1.4"/><circle cx="676" cy="892.6" r="1.4"/><circle cx="736.6" cy="892.6" r="1.4"/><circle cx="677" cy="924.9" r="1.4"/><circle cx="705.4" cy="942.8" r="1.4"/><circle cx="705.4" cy="964.3" r="1.4"/></g>
<rect x="702" y="906" width="8.4" height="9" fill="none" stroke="#151515" stroke-width="1.5"/>
<path class="w" d="M697,925 Q689,909 699,895" marker-end="url(#ah)"/>
<path class="w" d="M630,883.7L695.3,901.6"/>
<path class="w" d="M633.3,912.3V890" marker-end="url(#ah)"/>
<path class="w" d="M660,969.6 Q672,980 686,982" marker-end="url(#ah)"/>
<path class="w" style="stroke-dasharray:3,3" d="M697,935.6L688,981"/>
<g class="i m" style="font-size:14px">
<text x="638.4" y="914.5">1</text><text x="682.5" y="914.5">2</text><text x="645" y="946">5</text><text x="730.5" y="906.6">9</text><text x="765" y="946">8</text>
<text x="729.5" y="924.5">7</text><text x="715.4" y="935.2">6</text><text x="743" y="965.7">2</text><text x="697" y="937">4</text><text x="667" y="967.5">3</text></g>
<text x="0" y="0" class="i m" style="font-size:14px" transform="translate(638,944.5) rotate(62)">Vorkreis</text>
<text x="605" y="987.5" class="i" style="font-size:16px">Schalter</text>
<text x="694" y="987.5" class="i" style="font-size:16px" textLength="110">dreht um. 90°</text>
<text x="578" y="1007.2" class="i" style="font-size:16px" textLength="248">Gezeichnete Stellung : Mittel</text>

<!-- ===== Notes ===== -->
<text x="1205.4" y="835.3" style="font-size:17.5px" textLength="224.6">Heizspannungen/--ströme:</text>
<text x="1205.4" y="856.8" style="font-size:17.5px">1, 2</text><text x="1247" y="856.8" style="font-size:17.5px" textLength="91">20 V, 0,1 A</text>
<text x="1205.4" y="878.3" style="font-size:17.5px">3</text><text x="1247" y="878.3" style="font-size:17.5px" textLength="91">55 V, 0,1 A</text>
<text x="1205.4" y="899.8" style="font-size:17.5px">4</text><text x="1247" y="899.8" style="font-size:17.5px" textLength="91">50 V, 0,1 A</text>
<text x="1234" y="925.6" class="b" style="font-size:22px" textLength="132">ZF= 452 kHz</text>
<text x="868" y="1018" style="font-size:35px" textLength="260">SIERA S100U-01</text>
<text x="916.5" y="1062.7" style="font-size:45px" textLength="148">DRAFT</text>
<text x="1165" y="1045.5" class="i" style="font-size:16px" textLength="315">Abgeleitet von Philips 203U und 208U-45</text>
<text x="1168.5" y="1063" class="i" style="font-size:16px" textLength="185">K.-H. Monshausen 2026</text>
</svg>
</body></html>
